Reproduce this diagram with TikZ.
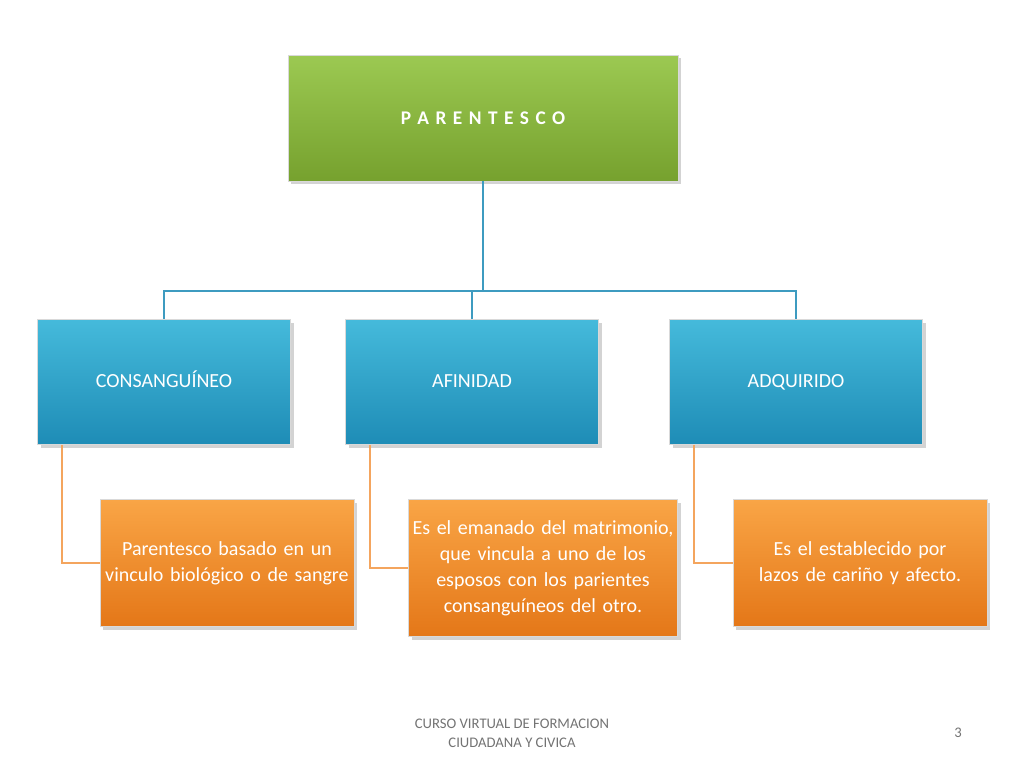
\documentclass[tikz,border=0pt]{standalone}
\usepackage{fontspec}
\setmainfont{Carlito}
\usetikzlibrary{shadows}
\hyphenpenalty=10000
\exhyphenpenalty=10000
\begin{document}
\begin{tikzpicture}[x=0.75pt,y=-0.75pt]
\useasboundingbox (0,0) rectangle (1024,768);
\definecolor{gtop}{HTML}{9CC952}\definecolor{gbot}{HTML}{76A12E}
\definecolor{btop}{HTML}{45BADB}\definecolor{bbot}{HTML}{1E8CB6}
\definecolor{otop}{HTML}{F9A546}\definecolor{obot}{HTML}{E47718}
\definecolor{lconn}{HTML}{3E9BC0}\definecolor{oline}{HTML}{F4A55E}
\tikzset{
 box/.style={draw=white!85!black,line width=0.6pt,minimum width=#1*0.75pt,align=center,text=white,font=\fontsize{15}{19.5}\selectfont,drop shadow={opacity=0.35},inner sep=1pt},
 grn/.style={top color=gtop,bottom color=gbot},
 blu/.style={top color=btop,bottom color=bbot,text height=11pt,text depth=3pt},
 org/.style={top color=otop,bottom color=obot},
 conn/.style={line width=1.8pt,color=lconn},
 oconn/.style={line width=1.5pt,color=oline}
}
\node[box=390,grn,minimum height=94.5pt,font=\bfseries\fontsize{14.5}{16}\selectfont] (p) at (483,118) {P\,\,A\,\,R\,\,E\,\,N\,\,T\,\,E\,\,S\,\,C\,\,O};
\node[box=253,blu,minimum height=94pt] (c) at (164,382) {CONSANGUÍNEO};
\node[box=253,blu,minimum height=94pt] (a) at (472,382) {AFINIDAD};
\node[box=253,blu,minimum height=94pt] (d) at (796,382) {ADQUIRIDO};
\node[box=254,org,minimum height=95pt,text width=188pt] (c1) at (227,563) {Parentesco basado en un vinculo biológico o de sangre};
\node[box=269,org,minimum height=103pt,text width=198pt] (a1) at (543,568) {Es el emanado del matrimonio, que vincula a uno de los esposos con los parientes consanguíneos del otro.};
\node[box=254,org,minimum height=95pt,text width=188pt] (d1) at (860,563) {Es el establecido por lazos de cariño y afecto.};
\coordinate (j) at (483,291);
\draw[conn] (p.south) -- (j);
\draw[conn] (j) -| (c.north);
\draw[conn] (j) -| (a.north);
\draw[conn] (j) -| (d.north);
\draw[oconn] (c.south west) ++(25,0) |- (c1.west);
\draw[oconn] (a.south west) ++(25,0) |- (a1.west);
\draw[oconn] (d.south west) ++(25,0) |- (d1.west);
\node[align=center,text=gray!90!black,font=\fontsize{11}{14}\selectfont] (f) at (512,733) {CURSO VIRTUAL DE FORMACION\\CIUDADANA Y CIVICA};
\node[text=gray!90!black,font=\fontsize{11}{14}\selectfont] (n) at (958,733) {3};
\end{tikzpicture}
\end{document}
